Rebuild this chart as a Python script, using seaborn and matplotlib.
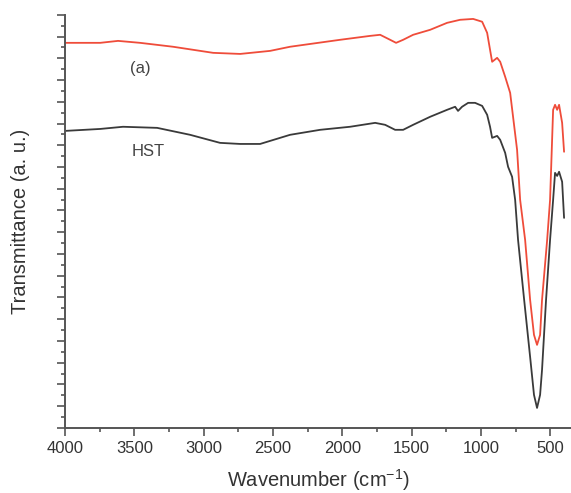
import matplotlib
matplotlib.use("Agg")
import matplotlib.pyplot as plt
from matplotlib.ticker import MultipleLocator, NullFormatter
import seaborn as sns
import pandas as pd

# FTIR spectra (wavenumber in cm-1, transmittance in arbitrary units)
wn_a = [4000, 3747, 3618, 3459, 3221, 2932, 2737, 2521, 2377, 2016, 1799, 1727, 1655, 1612,
        1561, 1489, 1366, 1244, 1150, 1056, 991, 955, 934, 919, 883, 861, 825, 789, 768,
        739, 717, 681, 645, 617, 595, 573, 559, 522, 501, 479, 465, 450, 436, 414, 400]
tr_a = [17.71, 17.71, 17.80, 17.71, 17.53, 17.25, 17.20, 17.34, 17.53, 17.85, 18.03, 18.08,
        17.85, 17.71, 17.85, 18.08, 18.31, 18.63, 18.77, 18.81, 18.68, 18.17, 17.39, 16.84,
        17.02, 16.84, 16.15, 15.41, 14.31, 12.79, 10.49, 8.65, 5.89, 4.28, 3.82, 4.28, 5.89,
        8.65, 10.49, 14.63, 14.86, 14.63, 14.86, 14.03, 12.70]

wn_hst = [4000, 3747, 3582, 3336, 3098, 2882, 2737, 2593, 2377, 2160, 1944, 1763, 1691, 1619,
          1561, 1489, 1366, 1244, 1186, 1165, 1136, 1092, 1042, 991, 955, 934, 919, 883, 861,
          825, 804, 775, 753, 732, 688, 645, 617, 595, 573, 559, 530, 501, 479, 465, 450,
          436, 414, 400]
tr_hst = [13.66, 13.75, 13.85, 13.80, 13.48, 13.11, 13.06, 13.06, 13.48, 13.71, 13.85, 14.03,
          13.94, 13.71, 13.71, 13.94, 14.31, 14.63, 14.77, 14.58, 14.77, 14.95, 14.95, 14.81,
          14.40, 13.85, 13.34, 13.43, 13.25, 12.65, 12.01, 11.55, 10.49, 8.65, 5.89, 3.27,
          1.52, 0.92, 1.52, 2.67, 5.89, 8.65, 10.49, 11.73, 11.59, 11.78, 11.32, 9.66]

df_a = pd.DataFrame({"wn": wn_a, "tr": tr_a})
df_hst = pd.DataFrame({"wn": wn_hst, "tr": tr_hst})

sns.set_style("ticks")
plt.rcParams['font.family'] = ['Liberation Sans', 'DejaVu Sans']
plt.rcParams['mathtext.fontset'] = 'custom'
plt.rcParams['mathtext.rm'] = 'Liberation Sans'

axis_col = "#555555"
text_col = "#333333"
fig = plt.figure(figsize=(5.71, 4.93), dpi=100)
ax = fig.add_axes([0.114, 0.132, 0.886, 0.838])

sns.lineplot(data=df_a, x="wn", y="tr", color="#ef4c3a", lw=1.3, ax=ax)
sns.lineplot(data=df_hst, x="wn", y="tr", color="#3a3a3a", lw=1.3, ax=ax)

ax.set_xlim(4000, 350)
ax.set_ylim(0, 19)

ax.text(3460, 16.55, "(a)", fontsize=12, color="#444444", ha="center", va="center")
ax.text(3400, 12.7, "HST", fontsize=12, color="#444444", ha="center", va="center")

ax.xaxis.set_major_locator(MultipleLocator(500))
ax.xaxis.set_minor_locator(MultipleLocator(250))
ax.yaxis.set_major_locator(MultipleLocator(1))
ax.yaxis.set_minor_locator(MultipleLocator(0.5))
ax.yaxis.set_major_formatter(NullFormatter())

ax.tick_params(axis="both", which="major", direction="out", length=6, width=1.2,
               color=axis_col, labelsize=12, labelcolor=text_col)
ax.tick_params(axis="both", which="minor", direction="out", length=3, width=1.2, color=axis_col)

sns.despine(ax=ax)
for s in ["left", "bottom"]:
    ax.spines[s].set_color(axis_col)
    ax.spines[s].set_linewidth(1.4)

ax.set_xlabel("Wavenumber (cm$^{\\mathregular{-1}}$)", fontsize=14.5, color=text_col, labelpad=8)
ax.set_ylabel("Transmittance (a. u.)", fontsize=14.5, color=text_col, labelpad=16)

fig.savefig("out.png", dpi=100)
